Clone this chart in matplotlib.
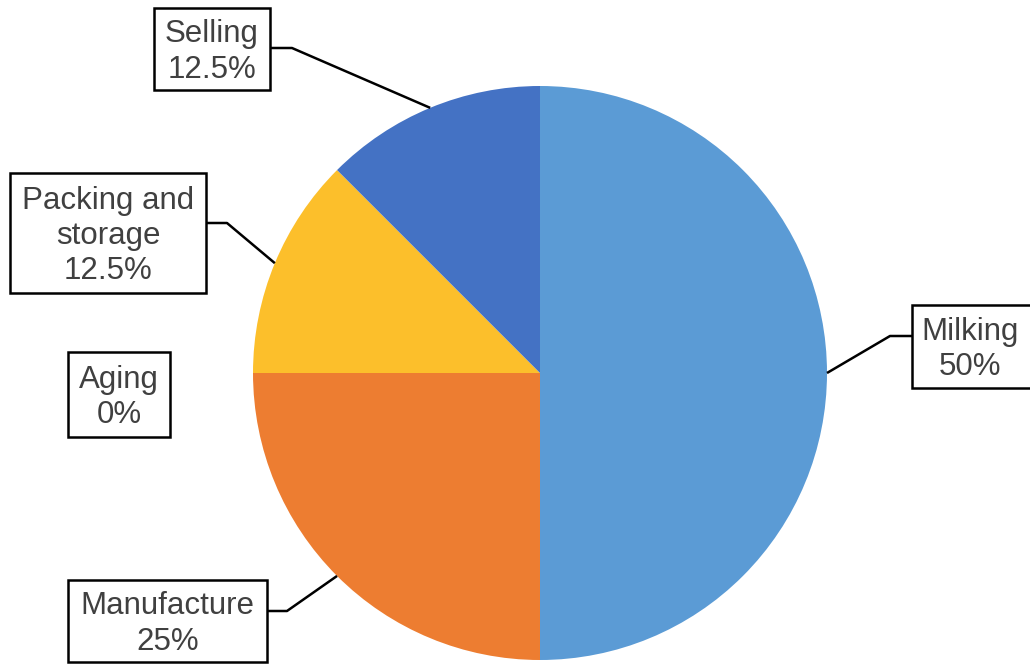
import numpy as np
import matplotlib
matplotlib.use("Agg")
import matplotlib.pyplot as plt
from matplotlib.patches import Rectangle

# data
stages = ["Milking", "Manufacture", "Aging", "Packing and\nstorage", "Selling"]
shares = [50, 25, 0, 12.5, 12.5]
pct_labels = ["50%", "25%", "0%", "12.5%", "12.5%"]
colors = ["#5B9BD5", "#ED7D31", "#A5A5A5", "#FCBF2B", "#4472C4"]

plt.rcParams['font.family'] = ['Liberation Sans', 'DejaVu Sans']

fig = plt.figure(figsize=(10.30, 6.66), dpi=100)
ax = fig.add_axes([0, 0, 1, 1])

cx, cy, r = 540, 293, 287
wedges, _ = ax.pie(shares, colors=colors, startangle=90, counterclock=False,
                   center=(cx, cy), radius=r, frame=True,
                   wedgeprops=dict(linewidth=0))

# label boxes: (x, y, w, h) in pixels from bottom-left, elbow start/end, or None
boxes = {
    "Milking": ((912, 278, 130, 83), (912, 330), (890, 330)),
    "Manufacture": ((68, 4, 199, 82), (267, 55), (287, 55)),
    "Aging": ((68, 229, 102, 85), None, None),
    "Packing and\nstorage": ((10, 373, 196, 120), (206, 443), (227, 443)),
    "Selling": ((154, 576, 116, 82), (270, 618), (292, 618)),
}

for w, name, pct in zip(wedges, stages, pct_labels):
    (bx, by, bw, bh), p0, p1 = boxes[name]
    ax.add_patch(Rectangle((bx, by), bw, bh, facecolor="white", edgecolor="black",
                           linewidth=1.8, zorder=3, clip_on=False))
    tx = bx + bw / 2 if name != "Milking" else 970
    ax.text(tx, by + bh / 2 - 3, name + "\n" + pct, ha="center", va="center",
            fontsize=22.5, color="#404040", linespacing=1.23, zorder=4)
    if p0 is not None:
        ang = np.deg2rad((w.theta1 + w.theta2) / 2)
        ex, ey = cx + r * np.cos(ang), cy + r * np.sin(ang)
        ax.plot([p0[0], p1[0], ex], [p0[1], p1[1], ey], color="black",
                linewidth=1.8, zorder=2, solid_capstyle="butt")

ax.set_xlim(0, 1030)
ax.set_ylim(0, 666)
ax.set_aspect("equal")
ax.axis("off")

fig.savefig("out.png", dpi=100)
